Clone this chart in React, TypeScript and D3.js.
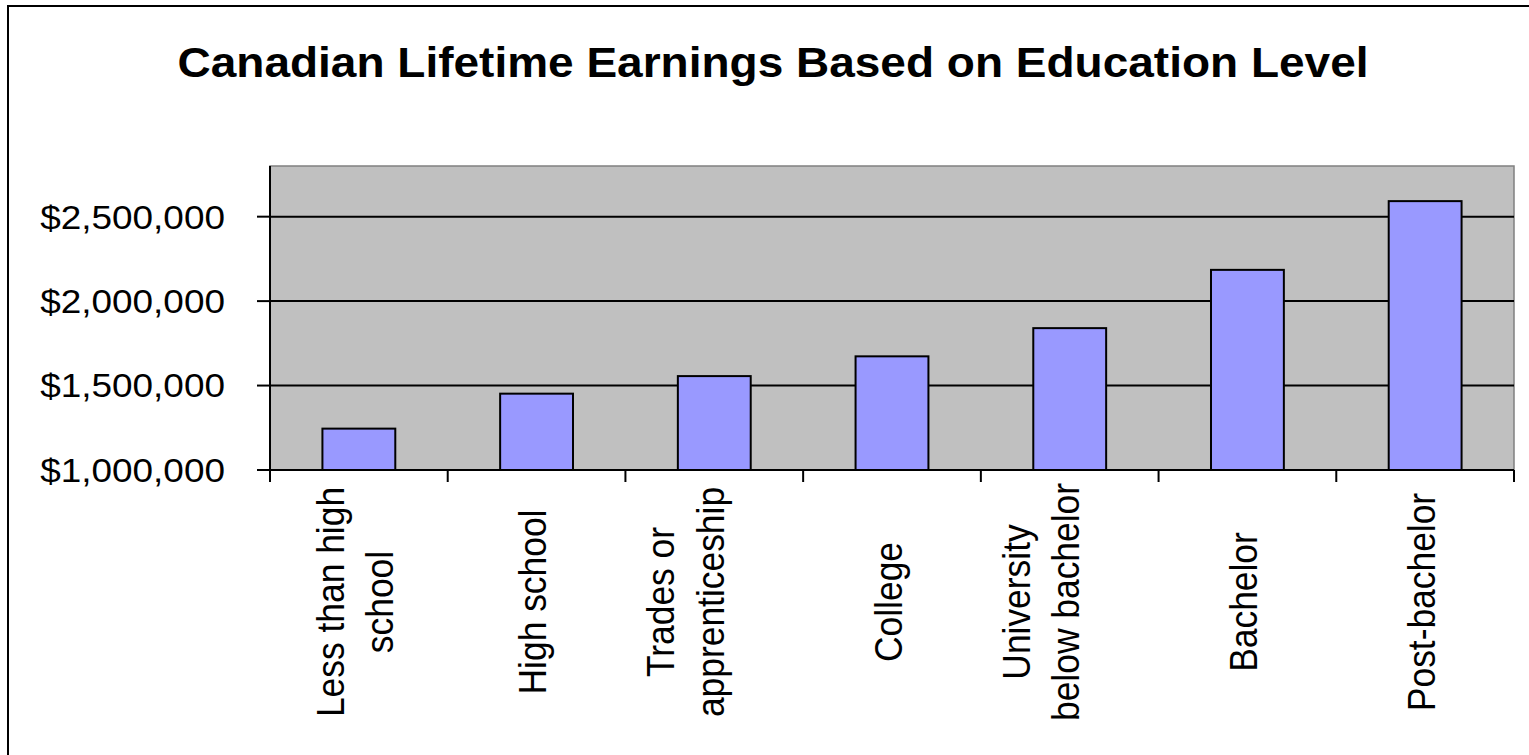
import React from "react";
import * as d3 from "d3";

const categories = [
  "Less than high school",
  "High school",
  "Trades or apprenticeship",
  "College",
  "University below bachelor",
  "Bachelor",
  "Post-bachelor",
];
// wrapped label lines as they appear in the chart
const labelLines = [
  ["Less than high", "school"],
  ["High school"],
  ["Trades or", "apprenticeship", ""],
  ["College"],
  ["University", "below bachelor", ""],
  ["Bachelor"],
  ["Post-bachelor"],
];
const earnings = [1245000, 1452000, 1556000, 1673000, 1840000, 2185000, 2592000];
const yTicks = [1000000, 1500000, 2000000, 2500000];
const yDomain = [1000000, 2800000];
const title = "Canadian Lifetime Earnings Based on Education Level";

const W = 1529;
const H = 755;
const plot = { left: 270, right: 1514, top: 166, bottom: 470 };
const FONT = "'Liberation Sans', Arial, Helvetica, sans-serif";

export default function App() {
  const x = d3
    .scaleBand<string>()
    .domain(categories)
    .range([plot.left, plot.right])
    .padding(0);
  const y = d3.scaleLinear().domain(yDomain).range([plot.bottom, plot.top]);
  const fmt = (v: number) => "$" + d3.format(",")(v);
  const bw = x.bandwidth() * 0.41;
  const boundaries = [...categories.map((c) => x(c) as number), plot.right];

  const lh = 46.4; // local line height for rotated labels
  const sx = 1.07;

  return (
    <svg
      width={W}
      height={H}
      style={{ position: "absolute", left: 0, top: 0, background: "#fff" }}
      fontFamily={FONT}
    >
      {/* outer chart border */}
      <rect x={8} y={6} width={1560} height={800} fill="#fff" stroke="#000" strokeWidth={2} />

      {/* title */}
      <text
        transform={`translate(773,77) scale(${sx},1)`}
        textAnchor="middle"
        fontSize={43}
        fontWeight="bold"
        fill="#000"
      >
        {title}
      </text>

      {/* plot area */}
      <rect
        x={plot.left}
        y={plot.top}
        width={plot.right - plot.left}
        height={plot.bottom - plot.top}
        fill="#C0C0C0"
        stroke="#808080"
        strokeWidth={1.5}
      />

      {/* gridlines */}
      {yTicks.map((t) => (
        <line
          key={"g" + t}
          x1={plot.left}
          x2={plot.right}
          y1={y(t)}
          y2={y(t)}
          stroke="#000"
          strokeWidth={2}
        />
      ))}

      {/* bars */}
      {categories.map((c, i) => (
        <rect
          key={c}
          x={(x(c) as number) + (x.bandwidth() - bw) / 2}
          y={y(earnings[i])}
          width={bw}
          height={y(yDomain[0]) - y(earnings[i])}
          fill="#9999FF"
          stroke="#000"
          strokeWidth={2}
        />
      ))}

      {/* axes */}
      <line x1={plot.left} x2={plot.left} y1={plot.top} y2={plot.bottom + 12} stroke="#000" strokeWidth={2} />
      <line x1={plot.left - 13} x2={plot.right} y1={plot.bottom} y2={plot.bottom} stroke="#000" strokeWidth={2} />
      {yTicks.map((t) => (
        <g key={"yt" + t}>
          <line x1={plot.left - 13} x2={plot.left} y1={y(t)} y2={y(t)} stroke="#000" strokeWidth={2} />
          <text
            transform={`translate(225,${y(t) + 0.36 * 33}) scale(1.12,1)`}
            textAnchor="end"
            fontSize={33}
            fill="#000"
          >
            {fmt(t)}
          </text>
        </g>
      ))}
      {boundaries.map((b, i) => (
        <line key={"xt" + i} x1={b} x2={b} y1={plot.bottom} y2={plot.bottom + 12} stroke="#000" strokeWidth={2} />
      ))}

      {/* category labels */}
      {categories.map((c, i) => {
        const cx = (x(c) as number) + x.bandwidth() / 2;
        const lines = labelLines[i];
        const n = lines.length;
        return (
          <g key={"l" + c} transform={`translate(${cx},602) scale(${sx},1) rotate(-90)`}>
            {lines.map((ln, j) => (
              <text
                key={j}
                x={0}
                y={9 + (j - (n - 1) / 2) * lh}
                textAnchor="middle"
                fontSize={35.4}
                fill="#000"
              >
                {ln}
              </text>
            ))}
          </g>
        );
      })}
    </svg>
  );
}
